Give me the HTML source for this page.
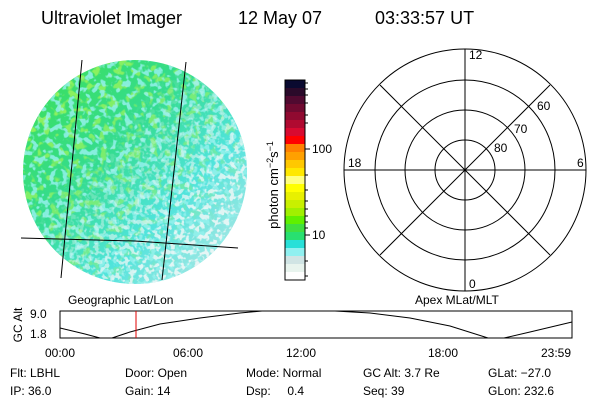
<!DOCTYPE html>
<html><head><meta charset="utf-8"><style>
body{margin:0;background:#fff;}
svg{display:block;font-family:"Liberation Sans",sans-serif;}
</style></head><body>
<svg width="600" height="400" viewBox="0 0 600 400">
<defs>
<linearGradient id="g" x1="0" y1="0" x2="1" y2="1">
<stop offset="0" stop-color="#3ee050"/>
<stop offset="0.4" stop-color="#34dc90"/>
<stop offset="0.65" stop-color="#50e4dc"/>
<stop offset="1" stop-color="#d4e8e8"/>
</linearGradient>
<linearGradient id="m" x1="0" y1="0" x2="1" y2="1">
<stop offset="0" stop-color="#fff" stop-opacity="0.9"/>
<stop offset="0.55" stop-color="#fff" stop-opacity="0.5"/>
<stop offset="0.8" stop-color="#fff" stop-opacity="0"/>
</linearGradient>
<linearGradient id="m2" x1="0" y1="0" x2="1" y2="1">
<stop offset="0.35" stop-color="#fff" stop-opacity="0"/>
<stop offset="0.7" stop-color="#fff" stop-opacity="0.8"/>
<stop offset="1" stop-color="#fff" stop-opacity="1"/>
</linearGradient>
<mask id="mk"><rect x="20" y="55" width="230" height="235" fill="url(#m)"/></mask>
<mask id="mk2"><rect x="20" y="55" width="230" height="235" fill="url(#m2)"/></mask>
<clipPath id="c"><circle cx="135" cy="172" r="112"/></clipPath>
<filter id="t" x="0" y="0" width="100%" height="100%">
<feTurbulence type="fractalNoise" baseFrequency="0.16" numOctaves="2" seed="3"/>
<feColorMatrix type="matrix" values="0 0 0 0 0.3  0 0 0 0 0.88  0 0 0 0 0.85  0 0 0 8 -4.2"/>
</filter>
<filter id="t2" x="0" y="0" width="100%" height="100%">
<feTurbulence type="fractalNoise" baseFrequency="0.12" numOctaves="2" seed="7"/>
<feColorMatrix type="matrix" values="0 0 0 0 0.38  0 0 0 0 0.93  0 0 0 0 0.1  0 0 0 8 -4.3"/>
</filter>
<filter id="t3" x="0" y="0" width="100%" height="100%">
<feTurbulence type="fractalNoise" baseFrequency="0.2" numOctaves="2" seed="11"/>
<feColorMatrix type="matrix" values="0 0 0 0 0.88  0 0 0 0 0.93  0 0 0 0 0.93  0 0 0 8 -4.0"/>
</filter>
</defs>
<g clip-path="url(#c)">
<rect x="20" y="55" width="230" height="235" fill="url(#g)"/>
<rect x="20" y="55" width="230" height="235" filter="url(#t2)" mask="url(#mk)"/>
<rect x="20" y="55" width="230" height="235" filter="url(#t)" opacity="0.85"/>
<rect x="20" y="55" width="230" height="235" filter="url(#t3)" mask="url(#mk2)"/>
</g>
<g stroke="#000" stroke-width="1" fill="none">
<line x1="82" y1="60" x2="61" y2="278"/>
<line x1="186" y1="62" x2="162" y2="280"/>
<polyline points="21,238 135,241 238,248"/>
</g>
<text x="41" y="24" font-size="18">Ultraviolet Imager</text>
<text x="238" y="24" font-size="18">12 May 07</text>
<text x="375" y="24" font-size="18">03:33:57 UT</text>
<!-- colorbar -->
<g>
<rect x="285" y="80" width="20" height="8" fill="#0a0a30"/>
<rect x="285" y="88" width="20" height="8" fill="#2a0a2a"/>
<rect x="285" y="96" width="20" height="8" fill="#500a30"/>
<rect x="285" y="104" width="20" height="8" fill="#700a30"/>
<rect x="285" y="112" width="20" height="8" fill="#900a30"/>
<rect x="285" y="120" width="20" height="8" fill="#b00a30"/>
<rect x="285" y="128" width="20" height="8" fill="#d80a30"/>
<rect x="285" y="136" width="20" height="8" fill="#ff0000"/>
<rect x="285" y="144" width="20" height="8" fill="#ff8000"/>
<rect x="285" y="152" width="20" height="8" fill="#ffa000"/>
<rect x="285" y="160" width="20" height="8" fill="#ffc800"/>
<rect x="285" y="168" width="20" height="8" fill="#ffe800"/>
<rect x="285" y="176" width="20" height="8" fill="#ffff80"/>
<rect x="285" y="184" width="20" height="8" fill="#ffff00"/>
<rect x="285" y="192" width="20" height="8" fill="#e8f000"/>
<rect x="285" y="200" width="20" height="8" fill="#c8f000"/>
<rect x="285" y="208" width="20" height="8" fill="#a0f000"/>
<rect x="285" y="216" width="20" height="8" fill="#60f000"/>
<rect x="285" y="224" width="20" height="8" fill="#40e040"/>
<rect x="285" y="232" width="20" height="8" fill="#28e070"/>
<rect x="285" y="240" width="20" height="8" fill="#28e0d8"/>
<rect x="285" y="248" width="20" height="8" fill="#90f0f0"/>
<rect x="285" y="256" width="20" height="8" fill="#d0e4e4"/>
<rect x="285" y="264" width="20" height="8" fill="#e8f4ee"/>
<rect x="285" y="272" width="20" height="8" fill="#ffffff"/>
<rect x="285" y="80" width="20" height="200" fill="none" stroke="#000"/>
<g stroke="#000">
<line x1="305" y1="149" x2="310" y2="149"/><line x1="305" y1="235" x2="310" y2="235"/>
<line x1="305" y1="83" x2="308" y2="83"/><line x1="305" y1="89" x2="308" y2="89"/><line x1="305" y1="95" x2="308" y2="95"/><line x1="305" y1="103" x2="308" y2="103"/><line x1="305" y1="115" x2="308" y2="115"/><line x1="305" y1="123" x2="308" y2="123"/>
<line x1="305" y1="175" x2="308" y2="175"/><line x1="305" y1="190" x2="308" y2="190"/><line x1="305" y1="201" x2="308" y2="201"/><line x1="305" y1="209" x2="308" y2="209"/><line x1="305" y1="216" x2="308" y2="216"/><line x1="305" y1="222" x2="308" y2="222"/><line x1="305" y1="228" x2="308" y2="228"/>
<line x1="305" y1="261" x2="308" y2="261"/><line x1="305" y1="276" x2="308" y2="276"/>
</g>
<text x="312" y="153" font-size="12">100</text>
<text x="312" y="239" font-size="12">10</text>
<text transform="translate(278,185) rotate(-90)" font-size="13" text-anchor="middle">photon cm<tspan dy="-5" font-size="9">−2</tspan><tspan dy="5">s</tspan><tspan dy="-5" font-size="9">−1</tspan></text>
</g>
<!-- polar -->
<g stroke="#000" fill="none">
<circle cx="465" cy="170" r="30"/><circle cx="465" cy="170" r="60"/><circle cx="465" cy="170" r="90"/><circle cx="465" cy="170" r="121"/>
<line x1="344" y1="170" x2="586" y2="170"/><line x1="465" y1="49" x2="465" y2="291"/>
<line x1="380" y1="85" x2="550" y2="255"/><line x1="380" y1="255" x2="550" y2="85"/>
</g>
<g font-size="12">
<text x="469" y="59">12</text>
<text x="469" y="288">0</text>
<text x="348" y="167">18</text>
<text x="577" y="167">6</text>
<text x="537" y="110">60</text>
<text x="514" y="133">70</text>
<text x="494" y="152">80</text>
</g>
<!-- bottom plot -->
<text x="68" y="304" font-size="12">Geographic Lat/Lon</text>
<text x="415" y="304" font-size="12">Apex MLat/MLT</text>
<text transform="translate(22,325) rotate(-90)" font-size="12" text-anchor="middle">GC Alt</text>
<text x="30" y="318" font-size="12">9.0</text>
<text x="30" y="338" font-size="12">1.8</text>
<rect x="60" y="311" width="512" height="27" fill="none" stroke="#000"/>
<path d="M60,328 L85,334 L100,338 L112,338 L130,332 L160,324 L200,318 L240,313 L262,311 L335,311 L370,313 L410,318 L450,326 L488,338 L504,338 L530,332 L572,322" fill="none" stroke="#000"/>
<line x1="136" y1="311" x2="136" y2="338" stroke="#e00000"/>
<g font-size="12">
<text x="60" y="357" text-anchor="middle">00:00</text>
<text x="188" y="357" text-anchor="middle">06:00</text>
<text x="301" y="357" text-anchor="middle">12:00</text>
<text x="443" y="357" text-anchor="middle">18:00</text>
<text x="571" y="357" text-anchor="end">23:59</text>
<text x="10" y="377">Flt: LBHL</text>
<text x="10" y="395">IP: 36.0</text>
<text x="125" y="377">Door: Open</text>
<text x="125" y="395">Gain: 14</text>
<text x="246" y="377">Mode: Normal</text>
<text x="246" y="395">Dsp:&#160;&#160;&#160;&#160;&#160;0.4</text>
<text x="363" y="377">GC Alt: 3.7 Re</text>
<text x="363" y="395">Seq: 39</text>
<text x="488" y="377">GLat: −27.0</text>
<text x="488" y="395">GLon: 232.6</text>
</g>
</svg>
</body></html>
